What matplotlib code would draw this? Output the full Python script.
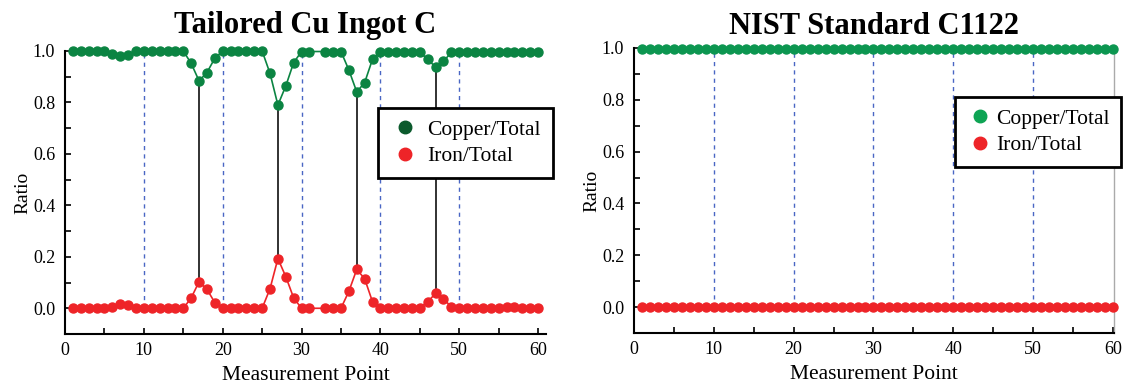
import numpy as np
import matplotlib
matplotlib.use('Agg')
import matplotlib.pyplot as plt
from matplotlib.ticker import MultipleLocator

plt.rcParams['font.family'] = ['Liberation Serif', 'DejaVu Serif']

# Tailored Cu Ingot C (point 32 missing in the original)
left_x = [1, 2, 3, 4, 5, 6, 7, 8, 9, 10, 11, 12, 13, 14, 15, 16, 17, 18, 19, 20,
          21, 22, 23, 24, 25, 26, 27, 28, 29, 30, 31, 33, 34, 35, 36, 37, 38, 39, 40,
          41, 42, 43, 44, 45, 46, 47, 48, 49, 50, 51, 52, 53, 54, 55, 56, 57, 58, 59, 60]
left_copper = [1.0, 1.0, 1.0, 1.0, 1.0, 0.99, 0.98, 0.985, 1.0, 1.0,
               1.0, 1.0, 1.0, 1.0, 1.0, 0.952, 0.884, 0.916, 0.972, 1.0,
               1.0, 1.0, 1.0, 1.0, 1.0, 0.913, 0.79, 0.864, 0.955, 0.998,
               0.998, 0.998, 0.998, 0.998, 0.926, 0.841, 0.877, 0.968, 0.998,
               0.998, 0.998, 0.998, 0.998, 0.995, 0.968, 0.937, 0.96, 0.995, 0.998,
               0.998, 0.998, 0.998, 0.998, 0.998, 0.997, 0.997, 0.997, 0.998, 0.998]
left_iron = [0.0, 0.0, 0.0, 0.0, 0.0, 0.005, 0.017, 0.014, 0.0, 0.0,
             0.0, 0.0, 0.0, 0.0, 0.0, 0.04, 0.103, 0.074, 0.022, 0.0,
             0.0, 0.0, 0.0, 0.0, 0.0, 0.076, 0.193, 0.123, 0.04, 0.0,
             0.0, 0.0, 0.0, 0.0, 0.066, 0.151, 0.115, 0.025, 0.0,
             0.0, 0.0, 0.0, 0.0, 0.002, 0.025, 0.058, 0.037, 0.005, 0.0,
             0.0, 0.0, 0.0, 0.0, 0.003, 0.005, 0.005, 0.003, 0.0, 0.0]
peak_points = [17, 27, 37, 47]

# NIST Standard C1122
right_x = list(range(1, 61))
right_copper = [0.995] * 60
right_iron = [0.0] * 60

divider_x = [10, 20, 30, 40, 50]

W, H = 1127, 385
fig = plt.figure(figsize=(W / 100, H / 100), dpi=100)

ax1 = fig.add_axes([65 / W, 1 - 334 / H, 481 / W, 283 / H])
ax2 = fig.add_axes([634 / W, 1 - 333 / H, 480 / W, 285 / H])


def style_axis(ax, xmax):
    ax.set_xlim(0, xmax)
    ax.set_ylim(-0.1, 1.0)
    ax.xaxis.set_major_locator(MultipleLocator(10))
    ax.xaxis.set_minor_locator(MultipleLocator(5))
    ax.yaxis.set_major_locator(MultipleLocator(0.2))
    ax.yaxis.set_minor_locator(MultipleLocator(0.1))
    ax.yaxis.set_major_formatter(plt.FuncFormatter(lambda v, p: f'{v:.1f}'))
    ax.tick_params(which='both', direction='in', length=4, width=1.2, labelsize=13)
    ax.tick_params(axis='x', pad=6)
    ax.tick_params(axis='y', pad=7)
    ax.spines['top'].set_visible(False)
    ax.spines['left'].set_linewidth(1.5)
    ax.spines['bottom'].set_linewidth(1.5)
    ax.set_xlabel('Measurement Point', fontsize=15.5)
    ax.set_ylabel('Ratio', fontsize=14)
    ax.xaxis.set_label_coords(0.5, -0.112)


def style_legend(leg):
    leg.get_frame().set_edgecolor('black')
    leg.get_frame().set_linewidth(2.0)
    leg.set_zorder(5)


# left panel
style_axis(ax1, 61)
ax1.spines['right'].set_visible(False)
ax1.yaxis.set_label_coords(-0.07, 0.5)
ax1.vlines(divider_x, 0.0, 0.985, colors='#4a66c4', linestyles=(0, (3, 3)), lw=1.0, zorder=1)
for p in peak_points:
    i = left_x.index(p)
    ax1.plot([p, p], [left_iron[i], left_copper[i]], color='#222222', lw=1.3, zorder=2)
ax1.plot(left_x, left_copper, '-o', color='#0b8442', ms=6.5, lw=1.2, clip_on=False, zorder=3)
ax1.plot(left_x, left_iron, '-o', color='#ee2428', ms=6.5, lw=1.2, clip_on=False, zorder=3)
h1 = ax1.plot([], [], 'o', color='#0b5a2c', ms=9, label='Copper/Total')[0]
h2 = ax1.plot([], [], 'o', color='#ee2428', ms=9, label='Iron/Total')[0]
leg1 = ax1.legend(handles=[h1, h2], loc='upper left', bbox_to_anchor=(378 / W, 1 - 108 / H),
                  bbox_transform=fig.transFigure, fontsize=15.5, frameon=True, fancybox=False,
                  framealpha=1, handletextpad=0.35, handlelength=1.4, borderpad=0.55,
                  labelspacing=0.3, borderaxespad=0)
style_legend(leg1)
fig.text((65 + 546) / 2 / W, 1 - 33.5 / H, 'Tailored Cu Ingot C', ha='center', va='baseline',
         fontsize=22, fontweight='bold')

# right panel
style_axis(ax2, 60.13)
ax2.spines['right'].set_color('#aaaaaa')
ax2.spines['right'].set_linewidth(1.0)
ax2.yaxis.set_label_coords(-0.07, 0.5)
ax2.vlines(divider_x, 0.03, 0.98, colors='#4a66c4', linestyles=(0, (3, 3)), lw=1.0, zorder=1)
ax2.plot(right_x, right_copper, '-o', color='#0c9650', ms=6.5, lw=1.0, clip_on=False, zorder=3)
ax2.plot(right_x, right_iron, '-o', color='#ee2428', ms=6.5, lw=1.0, clip_on=False, zorder=3)
g1 = ax2.plot([], [], 'o', color='#0ea454', ms=9, label='Copper/Total')[0]
g2 = ax2.plot([], [], 'o', color='#ee2428', ms=9, label='Iron/Total')[0]
leg2 = ax2.legend(handles=[g1, g2], loc='upper left', bbox_to_anchor=(955 / W, 1 - 97 / H),
                  bbox_transform=fig.transFigure, fontsize=15.5, frameon=True, fancybox=False,
                  framealpha=1, handletextpad=0.15, handlelength=1.2, borderpad=0.55,
                  labelspacing=0.3, borderaxespad=0)
style_legend(leg2)
fig.text((634 + 1114) / 2 / W, 1 - 33.5 / H, 'NIST Standard C1122', ha='center', va='baseline',
         fontsize=22, fontweight='bold')

fig.savefig('out.png', dpi=100)
